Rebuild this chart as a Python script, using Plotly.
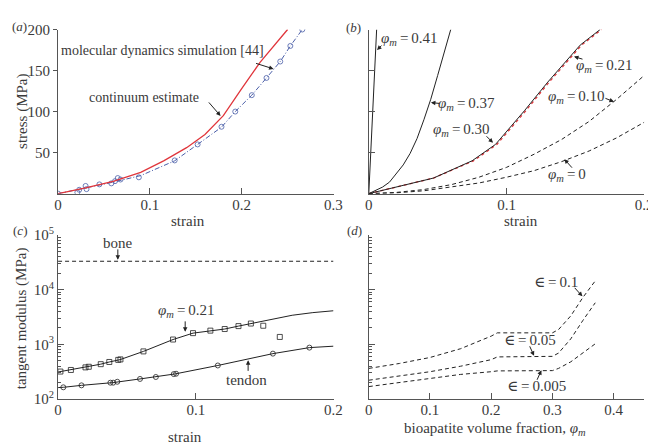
import plotly.graph_objects as go

# ---- (a) stress vs strain, continuum estimate vs MD simulation
a_cont_strain = [0, 0.03, 0.06, 0.09, 0.115, 0.14, 0.16, 0.18, 0.20, 0.22, 0.25]
a_cont_stress = [0, 7, 15, 26, 40, 56, 72, 95, 128, 160, 200]
a_md_line_strain = [0, 0.03, 0.06, 0.09, 0.127, 0.152, 0.178, 0.193, 0.211, 0.227, 0.242, 0.253, 0.266]
a_md_line_stress = [0, 7, 14, 22, 40, 60, 81, 100, 120, 141, 161, 180, 200]
a_md_strain = [0, 0.021, 0.023, 0.030, 0.031, 0.045, 0.058, 0.062, 0.065, 0.068, 0.088,
               0.127, 0.152, 0.178, 0.193, 0.211, 0.227, 0.242, 0.253, 0.266]
a_md_stress = [0, 1.5, 4.7, 9.4, 5.5, 11.3, 12.5, 15.2, 19, 17.2, 19.9,
               40.5, 60, 81.5, 100, 120, 141, 161, 180, 200]

# ---- (b) stress vs strain for several mineral fractions
b_041_strain = [0, 0.0057]
b_041_stress = [0, 200]
b_037_strain = [0, 0.005, 0.01, 0.015, 0.02, 0.025, 0.03, 0.035, 0.04, 0.045, 0.05, 0.055, 0.0595]
b_037_stress = [0, 4, 8, 14, 24, 35, 49, 67, 90, 115, 144, 172, 200]
b_030_strain = [0, 0.047, 0.075, 0.092, 0.113, 0.13, 0.1535, 0.168]
b_030_stress = [0, 19, 40, 60, 101, 136, 181, 200]
b_021_strain = [0, 0.047, 0.076, 0.093, 0.114, 0.131, 0.1545, 0.169]
b_021_stress = [0, 19, 40, 60, 101, 136, 181, 200]
b_dash_strain = [0, 0.02, 0.04, 0.06, 0.08, 0.10, 0.12, 0.14, 0.16, 0.18, 0.20]
b_010_stress = [0, 1.5, 5, 11, 20, 32, 48, 66, 88, 115, 144]
b_000_stress = [0, 1, 3.5, 8, 13, 20, 28, 39, 52, 68, 87]

# ---- (c) tangent modulus vs strain
c_bone_strain = [0, 0.2]
c_bone_mod = [33000, 33000]
c_sq_strain = [0.0017, 0.0093, 0.0199, 0.0223, 0.031, 0.0372, 0.0437, 0.0453, 0.062, 0.0835,
               0.098, 0.1106, 0.121, 0.131, 0.140, 0.149, 0.161]
c_sq_mod = [318, 340, 379, 389, 434, 476, 520, 530, 743, 1225,
            1603, 1780, 1905, 2155, 2400, 2187, 1365]
c_sq_line_strain = [0, 0.0017, 0.0093, 0.0199, 0.031, 0.0372, 0.045, 0.062, 0.0835, 0.098,
                    0.1106, 0.121, 0.131, 0.140, 0.155, 0.17, 0.185, 0.2]
c_sq_line_mod = [312, 318, 340, 379, 434, 476, 525, 743, 1225, 1603,
                 1780, 1905, 2155, 2400, 2900, 3400, 3800, 4110]
c_ci_strain = [0.0038, 0.017, 0.038, 0.040, 0.043, 0.0595, 0.071, 0.084, 0.0857, 0.116, 0.156, 0.1825]
c_ci_mod = [164, 178, 199, 199, 207, 233, 253, 286, 290, 411, 676, 871]
c_ci_line_strain = [0, 0.0038, 0.017, 0.040, 0.0595, 0.071, 0.085, 0.116, 0.156, 0.1825, 0.2]
c_ci_line_mod = [162, 164, 178, 200, 233, 253, 288, 411, 676, 871, 925]

# ---- (d) tangent modulus vs bioapatite volume fraction
d_phi = [0, 0.05, 0.1, 0.15, 0.2, 0.21, 0.3, 0.31, 0.33, 0.35, 0.37]
d_e0100 = [363, 447, 575, 832, 1413, 1622, 1622, 1862, 3311, 7244, 14454]
d_e0050 = [221, 263, 316, 398, 525, 589, 603, 692, 1259, 2754, 5754]
d_e0005 = [169, 200, 243, 282, 316, 327, 331, 363, 479, 692, 1023]

FONT = "Liberation Serif, Times New Roman, DejaVu Serif, serif"
TXT = "#3a3a3a"
AX = "#555555"
RED = "#e0363c"
BLUE = "#4a5ea8"
BLK = "#222222"
W, H = 656, 448


def px(x):
    return x / W


def py(y):
    return 1 - y / H


fig = go.Figure()

# (a)
fig.add_trace(go.Scatter(x=a_md_line_strain, y=a_md_line_stress, xaxis="x", yaxis="y", mode="lines",
                         line=dict(color=BLUE, width=1, dash="5px,2px,1px,2px")))
fig.add_trace(go.Scatter(x=a_md_strain, y=a_md_stress, xaxis="x", yaxis="y", mode="markers",
                         marker=dict(symbol="circle-open", size=5, color=BLUE, line=dict(width=0.8))))
fig.add_trace(go.Scatter(x=a_cont_strain, y=a_cont_stress, xaxis="x", yaxis="y", mode="lines",
                         line=dict(color=RED, width=1.3)))

# (b)
fig.add_trace(go.Scatter(x=b_021_strain, y=b_021_stress, xaxis="x2", yaxis="y2", mode="lines",
                         line=dict(color=RED, width=1.3, dash="3px,3px")))
for xs, ys in [(b_041_strain, b_041_stress), (b_037_strain, b_037_stress), (b_030_strain, b_030_stress)]:
    fig.add_trace(go.Scatter(x=xs, y=ys, xaxis="x2", yaxis="y2", mode="lines",
                             line=dict(color=BLK, width=1)))
for ys in [b_010_stress, b_000_stress]:
    fig.add_trace(go.Scatter(x=b_dash_strain, y=ys, xaxis="x2", yaxis="y2", mode="lines",
                             line=dict(color=BLK, width=1, dash="4px,3px")))

# (c)
fig.add_trace(go.Scatter(x=c_bone_strain, y=c_bone_mod, xaxis="x3", yaxis="y3", mode="lines",
                         line=dict(color=BLK, width=1, dash="4px,3px")))
fig.add_trace(go.Scatter(x=c_sq_line_strain, y=c_sq_line_mod, xaxis="x3", yaxis="y3", mode="lines",
                         line=dict(color=BLK, width=1)))
fig.add_trace(go.Scatter(x=c_sq_strain, y=c_sq_mod, xaxis="x3", yaxis="y3", mode="markers",
                         marker=dict(symbol="square-open", size=5, color=BLK, line=dict(width=0.8))))
fig.add_trace(go.Scatter(x=c_ci_line_strain, y=c_ci_line_mod, xaxis="x3", yaxis="y3", mode="lines",
                         line=dict(color=BLK, width=1)))
fig.add_trace(go.Scatter(x=c_ci_strain, y=c_ci_mod, xaxis="x3", yaxis="y3", mode="markers",
                         marker=dict(symbol="circle-open", size=5, color=BLK, line=dict(width=0.8))))

# (d)
for ys in [d_e0100, d_e0050, d_e0005]:
    fig.add_trace(go.Scatter(x=d_phi, y=ys, xaxis="x4", yaxis="y4", mode="lines",
                             line=dict(color=BLK, width=1, dash="4px,3px")))


def xax(dom, rng, anchor, ticks):
    return dict(domain=dom, range=rng, anchor=anchor, showline=True, linecolor=AX, linewidth=1,
                ticks="inside", ticklen=6, tickcolor=AX, tickvals=ticks, showgrid=False,
                zeroline=False, ticklabelstandoff=-3, tickfont=dict(size=15, color=TXT, family=FONT))


def yax_lin(dom, anchor, labels, ticks):
    return dict(domain=dom, range=[0, 200], anchor=anchor, showline=True, linecolor=AX, linewidth=1,
                ticks=ticks, ticklen=6, tickcolor=AX, tickvals=[50, 100, 150, 200],
                showticklabels=labels, showgrid=False, zeroline=False,
                tickfont=dict(size=15, color=TXT, family=FONT))


# minor tick positions 2..9 in each decade
minor_vals = [m * 10 ** e for e in range(2, 5) for m in range(2, 10)]


def yax_log(dom, anchor, labels):
    return dict(domain=dom, type="log", range=[2, 5], anchor=anchor, showline=True, linecolor=AX,
                linewidth=1, ticks="inside", ticklen=6, tickcolor=AX,
                tickvals=[100, 1000, 10000, 100000],
                ticktext=["10<sup>2</sup>", "10<sup>3</sup>", "10<sup>4</sup>", "10<sup>5</sup>"],
                showticklabels=labels, showgrid=False, zeroline=False,
                minor=dict(ticks="inside", ticklen=3, tickcolor=AX, showgrid=False, tickvals=minor_vals),
                tickfont=dict(size=15, color=TXT, family=FONT))


top = [py(183), py(12)]
bot = [py(397), py(226)]
left = [px(47), px(328)]
right = [px(364), px(645)]

fig.update_layout(
    width=W, height=H, margin=dict(l=0, r=0, t=0, b=0),
    paper_bgcolor="white", plot_bgcolor="white", showlegend=False,
    font=dict(family=FONT, color=TXT, size=15),
    xaxis=xax(left, [0, 0.3], "y", [0, 0.1, 0.2, 0.3]),
    yaxis=dict(yax_lin(top, "x", True, "outside"), ticklen=4),
    xaxis2=xax(right, [0, 0.2], "y2", [0, 0.1, 0.2]),
    yaxis2=yax_lin(top, "x2", False, "inside"),
    xaxis3=xax(left, [0, 0.2], "y3", [0, 0.1, 0.2]),
    yaxis3=yax_log(bot, "x3", True),
    xaxis4=xax(right, [0, 0.45], "y4", [0, 0.1, 0.2, 0.3, 0.4]),
    yaxis4=yax_log(bot, "x4", False),
)

PHI = "<i>\u03c6</i><sub><i>m</i></sub>\u2009=\u2009"
EPS = "\u2208\u2009=\u2009"

ann = []


def text(xr, yr, x, y, s, size=15, angle=0):
    ann.append(dict(xref=xr, yref=yr, x=x, y=y, text=s, showarrow=False, textangle=angle,
                    font=dict(size=size, color=TXT, family=FONT), xanchor="center", yanchor="middle"))


def arrow(xr, yr, x, y, ax, ay):
    ann.append(dict(xref=xr, yref=yr, x=x, y=y, text="", showarrow=True, ax=ax, ay=ay,
                    arrowhead=2, arrowsize=0.9, arrowwidth=1, arrowcolor=BLK))


# panel letters and axis titles
text("paper", "paper", px(8), py(9), "(<i>a</i>)", size=13)
text("paper", "paper", px(348), py(10), "(<i>b</i>)", size=13)
text("paper", "paper", px(8), py(221), "(<i>c</i>)", size=13)
text("paper", "paper", px(349), py(221), "(<i>d</i>)", size=13)
text("paper", "paper", px(10), py(97), "stress (MPa)", angle=-90)
text("paper", "paper", px(10), py(313), "tangent modulus (MPa)", angle=-90)
text("paper", "paper", px(180), py(211), "strain")
text("paper", "paper", px(519), py(211), "strain")
text("paper", "paper", px(177), py(437), "strain")
text("paper", "paper", px(493), py(428), "bioapatite volume fraction, <i>\u03c6</i><sub><i>m</i></sub>")

# (a)
text("x", "y", 0.114, 175, "molecular dynamics simulation [44]", size=14)
arrow("x", "y", 0.2347, 152, -19, -6)
text("x", "y", 0.094, 117, "continuum estimate", size=14)
arrow("x", "y", 0.177, 94.7, -13, -15)

# (b)
text("x2", "y2", 0.0297, 188, PHI + "0.41")
arrow("x2", "y2", 0.006, 175, 6, -6)
text("x2", "y2", 0.071, 109, PHI + "0.37")
arrow("x2", "y2", 0.0451, 111, 10, 1)
text("x2", "y2", 0.0674, 77, PHI + "0.30")
arrow("x2", "y2", 0.0902, 62, -8, -8)
text("x2", "y2", 0.171, 156, PHI + "0.21")
arrow("x2", "y2", 0.149, 167, 10, 3)
text("x2", "y2", 0.1507, 118, PHI + "0.10")
arrow("x2", "y2", 0.178, 112, -10, -4)
text("x2", "y2", 0.144, 23, PHI + "0")
arrow("x2", "y2", 0.142, 42, 9, 10)

# (c)  log axes: y given as log10
text("x3", "y3", 0.0434, 4.86, "bone")
arrow("x3", "y3", 0.0434, 4.544, 0, -12)
text("x3", "y3", 0.0932, 3.614, PHI + "0.21")
arrow("x3", "y3", 0.0923, 3.228, 0, -12)
text("x3", "y3", 0.137, 2.35, "tendon")
arrow("x3", "y3", 0.138, 2.707, 0, 12)

# (d)
text("x4", "y4", 0.306, 4.14, EPS + "0.1")
arrow("x4", "y4", 0.349, 3.877, -9, -10)
text("x4", "y4", 0.263, 3.088, EPS + "0.05")
arrow("x4", "y4", 0.270, 2.79, -5, -11)
text("x4", "y4", 0.274, 2.246, EPS + "0.005")
arrow("x4", "y4", 0.282, 2.526, -5, 11)

fig.update_layout(annotations=ann)

fig.write_html("out.html")
